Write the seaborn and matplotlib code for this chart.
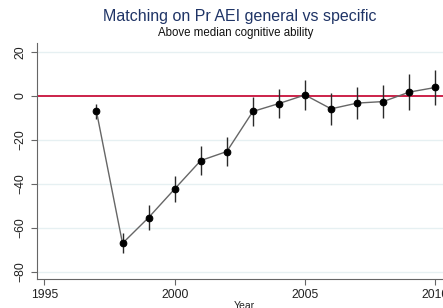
import pandas as pd
import seaborn as sns
import matplotlib.pyplot as plt

# estimates
years = [1997, 1998, 1999, 2000, 2001, 2002, 2003, 2004, 2005, 2006, 2007, 2008, 2009, 2010]
coef = [-7.0, -67.0, -55.3, -42.3, -29.4, -25.3, -7.1, -3.5, 0.4, -5.9, -3.3, -2.6, 1.7, 3.8]
ci_half = [3.5, 4.5, 5.7, 6.0, 6.4, 6.7, 6.6, 6.7, 6.8, 7.3, 7.3, 7.4, 8.0, 7.9]

df = pd.DataFrame({'Year': years, 'coef': coef, 'err': ci_half})

sns.set_style('white')
plt.rcParams['font.family'] = ['Liberation Sans', 'DejaVu Sans']

fig = plt.figure(figsize=(4.43, 3.08), dpi=100)
ax = fig.add_axes([37 / 443, 29 / 308, 414 / 443, 236 / 308])

for y in [-80, -60, -40, -20, 20]:
    ax.axhline(y, color='#e6f0f2', lw=1, zorder=0)
ax.axhline(0, color='#c8103a', lw=1.3, zorder=1)

ax.errorbar(df['Year'], df['coef'], yerr=df['err'], fmt='none', ecolor='#2a2a2a', elinewidth=1.0, zorder=2)
sns.lineplot(data=df, x='Year', y='coef', ax=ax, color='#666666', lw=1.0, marker='o',
             markersize=4.8, markerfacecolor='black', markeredgecolor='black', zorder=3)

ax.set_xlim(1994.72, 2010.6)
ax.set_ylim(-83.2, 24)
ax.set_xticks([1995, 2000, 2005, 2010])
ax.set_yticks([20, 0, -20, -40, -60, -80])
ax.tick_params(axis='both', direction='out', length=4, width=0.8, color='#666666',
               labelsize=8.7, labelcolor='#222222', left=True, bottom=True)
for lab in ax.get_yticklabels():
    lab.set_rotation(90)
    lab.set_va('center')
ax.set_xlabel('Year', fontsize=7.5, color='#222222', labelpad=0)
ax.set_ylabel('')
for s in ['top', 'right']:
    ax.spines[s].set_visible(False)
for s in ['left', 'bottom']:
    ax.spines[s].set_color('#666666')
    ax.spines[s].set_linewidth(0.8)

fig.text(240 / 443, 1 - 17 / 308, 'Matching on Pr AEI general vs specific', ha='center', va='center',
         fontsize=11.5, color='#1f3466')
fig.text(236 / 443, 1 - 33 / 308, 'Above median cognitive ability', ha='center', va='center',
         fontsize=8.3, color='#111111')

fig.savefig('out.png', dpi=100)
